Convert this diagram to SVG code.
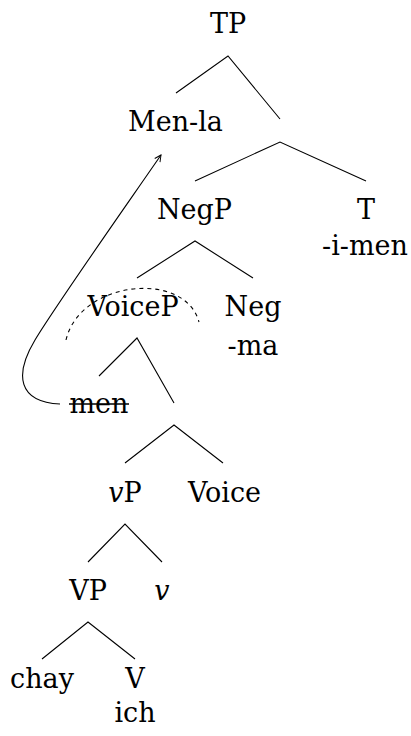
<svg xmlns="http://www.w3.org/2000/svg" width="411" height="736" viewBox="0 0 411 736">
<style>
.t text{font-size:27px;fill:#000;text-anchor:middle}
.e{stroke:#000;stroke-width:1.1;fill:none}
.it{font-style:italic}
</style>
<defs>
<marker id="ah" viewBox="0 0 10 10" refX="9" refY="5" markerWidth="8" markerHeight="8" markerUnits="userSpaceOnUse" orient="auto">
<path d="M1 1 L9 5 L1 9" fill="none" stroke="#000" stroke-width="1.2"/>
</marker>
</defs>
<rect width="411" height="736" fill="#fff"/>
<g id="nodes" class="t" font-family="'DejaVu Serif', 'Liberation Serif', serif">
<g id="TP"><text x="228" y="33">TP</text></g>
<g id="Menla"><text x="175.5" y="131">Men-la</text></g>
<g id="NegP"><text x="194.5" y="219">NegP</text></g>
<g id="T"><text x="366" y="219">T</text><text x="365" y="255">-i-men</text></g>
<g id="VoiceP"><text x="133" y="316">VoiceP</text></g>
<g id="Neg"><text x="253" y="316">Neg</text><text x="253" y="355">-ma</text></g>
<g id="men"><text x="99" y="413">men</text><line x1="69" y1="404" x2="129" y2="404" stroke="#000" stroke-width="1.3"/></g>
<g id="vP"><text x="125" y="502"><tspan class="it">v</tspan>P</text></g>
<g id="Voice"><text x="224.5" y="502">Voice</text></g>
<g id="VP"><text x="88" y="600">VP</text></g>
<g id="v"><text x="162" y="600" class="it">v</text></g>
<g id="chay"><text x="42" y="688">chay</text></g>
<g id="V"><text x="135" y="688">V</text><text x="135" y="722">ich</text></g>
</g>
<g id="connectors">
<path class="e" d="M176 93 L228 56 L280 119"/>
<path class="e" d="M195 181 L280 142 L366 181"/>
<path class="e" d="M137 278 L195 241 L253 278"/>
<path class="e" d="M99 376 L137 338 L174 403"/>
<path class="e" d="M125 463 L174 425 L223 463"/>
<path class="e" d="M88 562 L125 524 L162 562"/>
<path class="e" d="M42 659 L88 622 L135 659"/>
<path class="e" stroke-dasharray="4,4" d="M66 340 C80 280 185 270 199 322"/>
<path class="e" marker-end="url(#ah)" d="M60 404 C18 402 14 375 35 340 S130 200 161 155"/>
</g>
</svg>
